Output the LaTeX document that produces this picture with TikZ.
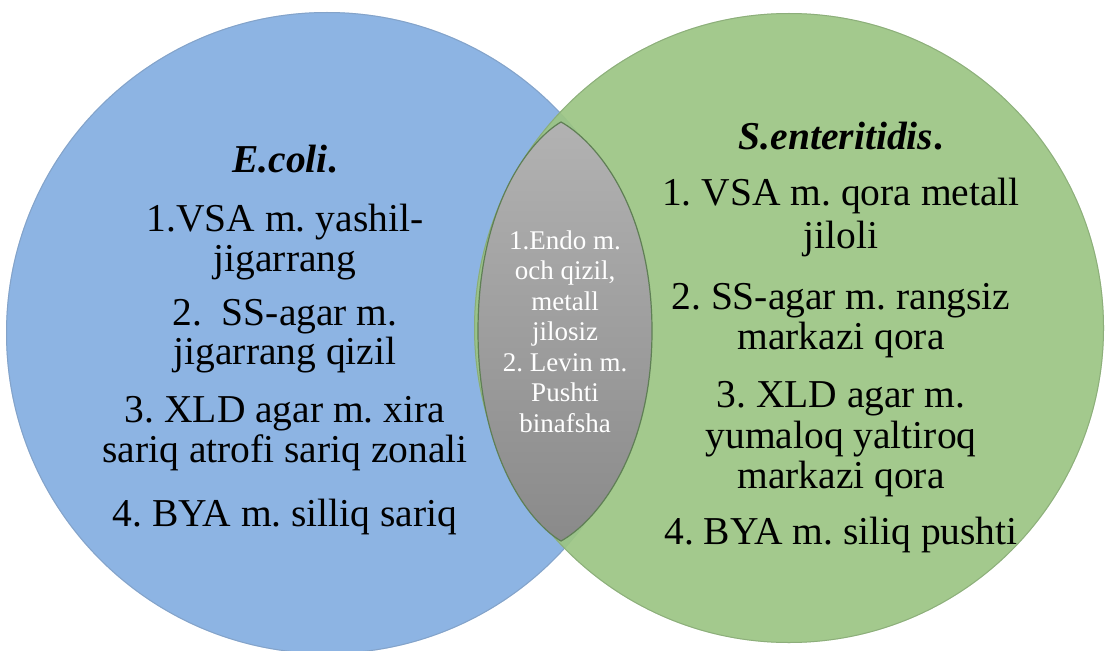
\documentclass[tikz,border=0pt]{standalone}
\usepackage{fontspec}
\setmainfont{Liberation Serif}
\frenchspacing
\definecolor{cblue}{HTML}{8DB4E3}
\definecolor{cblueedge}{HTML}{7E98B8}
\definecolor{cgreen}{HTML}{9CC584}
\definecolor{cgreenedge}{HTML}{7F9E70}
\definecolor{lenstop}{HTML}{B2B2B2}
\definecolor{lensbot}{HTML}{8A8A8A}
\definecolor{lensedge}{HTML}{5F7F55}
\begin{document}
\begin{tikzpicture}[x=1pt,y=-1pt,
  maintext/.style={font=\fontsize{39.5}{41}\selectfont, anchor=mid, inner sep=0pt, text=black},
  lenstext/.style={font=\fontsize{27}{29}\selectfont, anchor=mid, inner sep=0pt, text=white}]
\useasboundingbox (0,0) rectangle (1107,650);
\clip (0,0) rectangle (1107,650);
% blue circle
\fill[cblue] (327,333) circle[radius=321];
\draw[cblueedge, line width=1pt, opacity=0.6] (327,333) circle[radius=320.5];
% green circle
\fill[cgreen, opacity=0.93] (789,328) circle[radius=315];
\draw[cgreenedge, line width=1pt, opacity=0.6] (789,328) circle[radius=314.5];
% lens
\path[draw=lensedge, line width=1.2pt, top color=lenstop, bottom color=lensbot]
  (561,122) .. controls (530,140) and (478,205) .. (478,331)
  .. controls (478,457) and (530,523) .. (561,541)
  .. controls (594,523) and (652,457) .. (652,331)
  .. controls (652,205) and (594,140) .. (561,122) -- cycle;
% left texts
\foreach \t/\y [count=\i] in {{\textbf{\textit{E.coli}.}}/170,
  {1.VSA m. yashil-}/229, {jigarrang}/269,
  {2.\ \ SS-agar m.}/323, {jigarrang qizil}/362,
  {3. XLD agar m. xira}/420, {sariq atrofi sariq zonali}/460,
  {4. BYA m. silliq sariq}/524}
  \node[maintext] (L\i) at (285,\y) {\t};
% right texts
\foreach \t/\y [count=\i] in {{\textbf{\textit{S.enteritidis}.}}/147,
  {1. VSA m. qora metall}/203, {jiloli}/246,
  {2. SS-agar m. rangsiz}/307, {markazi qora}/347,
  {3. XLD agar m.}/405, {yumaloq yaltiroq}/446, {markazi qora}/486,
  {4. BYA m. siliq pushti}/542}
  \node[maintext] (R\i) at (841,\y) {\t};
% lens texts
\foreach \t/\y [count=\i] in {{1.Endo m.}/247, {och qizil,}/277.5, {metall}/308,
  {jilosiz}/338.5, {2. Levin m.}/369, {Pushti}/399.5, {binafsha}/430}
  \node[lenstext] (C\i) at (565,\y) {\t};
\end{tikzpicture}
\end{document}
